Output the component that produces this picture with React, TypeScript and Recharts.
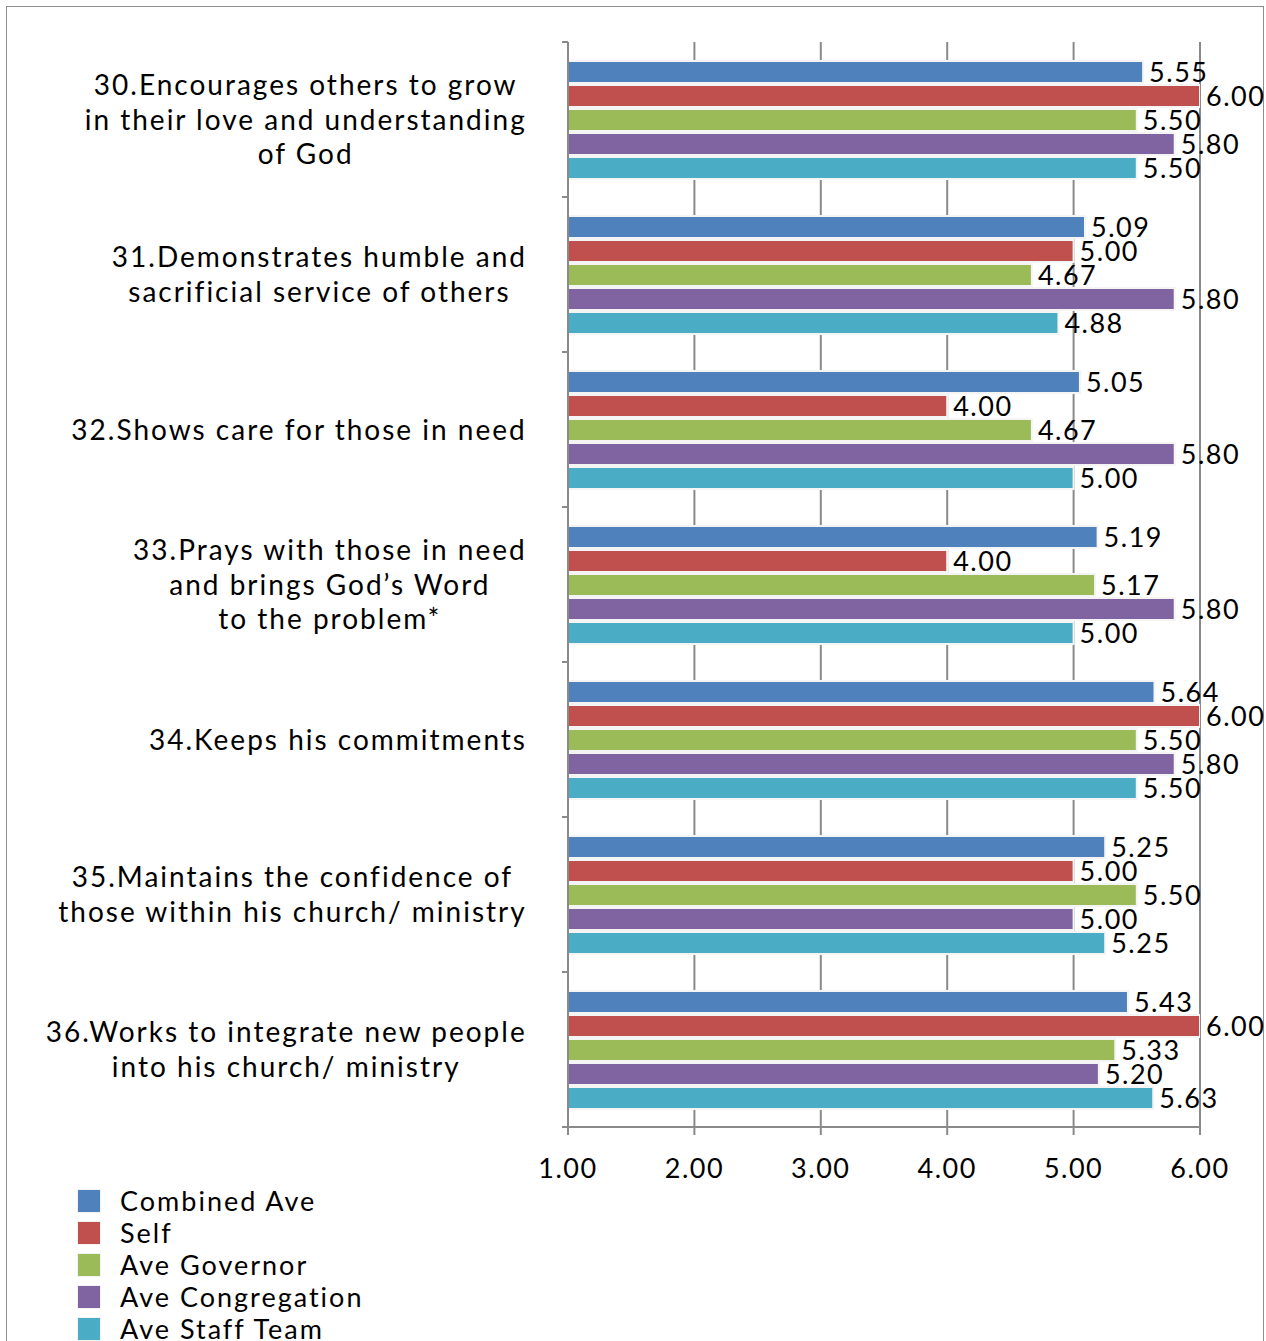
import React from 'react';
import { BarChart, Bar, XAxis, YAxis, CartesianGrid, LabelList } from 'recharts';

const FONT = 'Lato, sans-serif';

const categories = [
  '30.Encourages others to grow\nin their love and understanding\nof God',
  '31.Demonstrates humble and\nsacrificial service of others',
  '32.Shows care for those in need',
  '33.Prays with those in need\nand brings God\u2019s Word\nto the problem*',
  '34.Keeps his commitments',
  '35.Maintains the confidence of\nthose within his church/ ministry',
  '36.Works to integrate new people\ninto his church/ ministry',
];

const combinedAve = [5.55, 5.09, 5.05, 5.19, 5.64, 5.25, 5.43];
const self = [6.0, 5.0, 4.0, 4.0, 6.0, 5.0, 6.0];
const aveGovernor = [5.5, 4.67, 4.67, 5.17, 5.5, 5.5, 5.33];
const aveCongregation = [5.8, 5.8, 5.8, 5.8, 5.8, 5.0, 5.2];
const aveStaffTeam = [5.5, 4.88, 5.0, 5.0, 5.5, 5.25, 5.63];

const xTicks = [1, 2, 3, 4, 5, 6];

const series = [
  { key: 'combined', name: 'Combined Ave', color: '#4F81BD', values: combinedAve },
  { key: 'self', name: 'Self', color: '#C0504D', values: self },
  { key: 'governor', name: 'Ave Governor', color: '#9BBB59', values: aveGovernor },
  { key: 'congregation', name: 'Ave Congregation', color: '#8064A2', values: aveCongregation },
  { key: 'staff', name: 'Ave Staff Team', color: '#4BACC6', values: aveStaffTeam },
];

const data = categories.map((name, i) => {
  const row: Record<string, any> = { name };
  series.forEach((s) => {
    row[s.key] = s.values[i];
  });
  return row;
});

// plot box
const CHART_W = 1266;
const CHART_H = 1341;
const M_TOP = 42;
const M_LEFT = 8;
const M_RIGHT = 66;
const M_BOTTOM = 164;
const Y_AXIS_W = 560;
const X_AXIS_H = 50;
const PLOT_LEFT = M_LEFT + Y_AXIS_W;
const PLOT_H = CHART_H - M_TOP - M_BOTTOM - X_AXIS_H;
const BAND = PLOT_H / categories.length;
const AXIS_GRAY = '#8a8a8a';

const CAT_SIZE = 28;
const CAT_SPACING = 2;

let measureCtx: CanvasRenderingContext2D | null = null;
const textWidth = (s: string, size: number, spacing: number) => {
  if (!measureCtx) measureCtx = document.createElement('canvas').getContext('2d');
  if (!measureCtx) return s.length * (size * 0.5 + spacing);
  measureCtx.font = `${size}px Lato`;
  return measureCtx.measureText(s).width + spacing * (s.length - 1);
};

const CategoryTick = (props: any) => {
  const { y, payload, index } = props;
  const lines: string[] = String(payload.value).split('\n');
  const lineH = 34.5;
  const right = 525;
  const blockW = Math.max(...lines.map((l) => textWidth(l, CAT_SIZE, CAT_SPACING)));
  const cx = right - blockW / 2;
  const top = y - ((lines.length - 1) * lineH) / 2;
  return (
    <g>
      <line x1={PLOT_LEFT - 6} x2={PLOT_LEFT} y1={y - BAND / 2} y2={y - BAND / 2} stroke={AXIS_GRAY} strokeWidth={2} />
      {index === categories.length - 1 && (
        <line x1={PLOT_LEFT - 6} x2={PLOT_LEFT} y1={y + BAND / 2} y2={y + BAND / 2} stroke={AXIS_GRAY} strokeWidth={2} />
      )}
      {lines.map((l, i) => (
        <text
          key={i}
          x={cx + CAT_SPACING / 2}
          y={top + i * lineH}
          dy="0.36em"
          textAnchor="middle"
          fontSize={CAT_SIZE}
          fontFamily={FONT}
          letterSpacing={CAT_SPACING}
          fill="#000"
        >
          {l}
        </text>
      ))}
    </g>
  );
};

export default function App() {
  return (
    <div style={{ position: 'absolute', left: 0, top: 0, width: CHART_W, height: CHART_H, background: '#fff', overflow: 'hidden' }}>
      <div
        style={{
          position: 'absolute',
          left: 6,
          top: 6,
          width: 1256,
          height: 1360,
          border: '1.5px solid #8f8f8f',
        }}
      />
      <div style={{ position: 'absolute', left: 0, top: 0 }}>
        <BarChart
          width={CHART_W}
          height={CHART_H}
          data={data}
          layout="vertical"
          margin={{ top: M_TOP, right: M_RIGHT, bottom: M_BOTTOM, left: M_LEFT }}
          barSize={22}
          barGap={2}
        >
          <CartesianGrid horizontal={false} stroke={AXIS_GRAY} strokeWidth={2} />
          <XAxis
            type="number"
            domain={[1, 6]}
            ticks={xTicks}
            allowDataOverflow
            height={X_AXIS_H}
            tickFormatter={(v: number) => v.toFixed(2)}
            axisLine={{ stroke: AXIS_GRAY, strokeWidth: 2 }}
            tickLine={{ stroke: AXIS_GRAY, strokeWidth: 2 }}
            tickSize={8}
            tickMargin={24}
            tick={{ fill: '#000', fontSize: 27, fontFamily: FONT, letterSpacing: 1.5 }}
          />
          <YAxis
            type="category"
            dataKey="name"
            width={Y_AXIS_W}
            interval={0}
            axisLine={{ stroke: AXIS_GRAY, strokeWidth: 2 }}
            tickLine={false}
            tick={<CategoryTick />}
          />
          {series.map((s) => (
            <Bar key={s.key} dataKey={s.key} name={s.name} fill={s.color} stroke="#f4f4f4" strokeWidth={2} isAnimationActive={false}>
              <LabelList
                dataKey={s.key}
                position="right"
                offset={6}
                formatter={(v: any) => Number(v).toFixed(2)}
                fill="#000"
                fontSize={27}
                fontFamily={FONT}
                letterSpacing={1.5}
              />
            </Bar>
          ))}
        </BarChart>
      </div>
      <div style={{ position: 'absolute', left: 78, top: 1185, fontFamily: FONT, fontSize: 27, color: '#000', letterSpacing: 2 }}>
        {series.map((s) => (
          <div key={s.key} style={{ display: 'flex', alignItems: 'center', height: 32 }}>
            <div style={{ width: 22, height: 22, background: s.color, boxShadow: '0 0 0 1px #f2f2f2' }} />
            <span style={{ marginLeft: 20, lineHeight: '32px' }}>{s.name}</span>
          </div>
        ))}
      </div>
    </div>
  );
}
